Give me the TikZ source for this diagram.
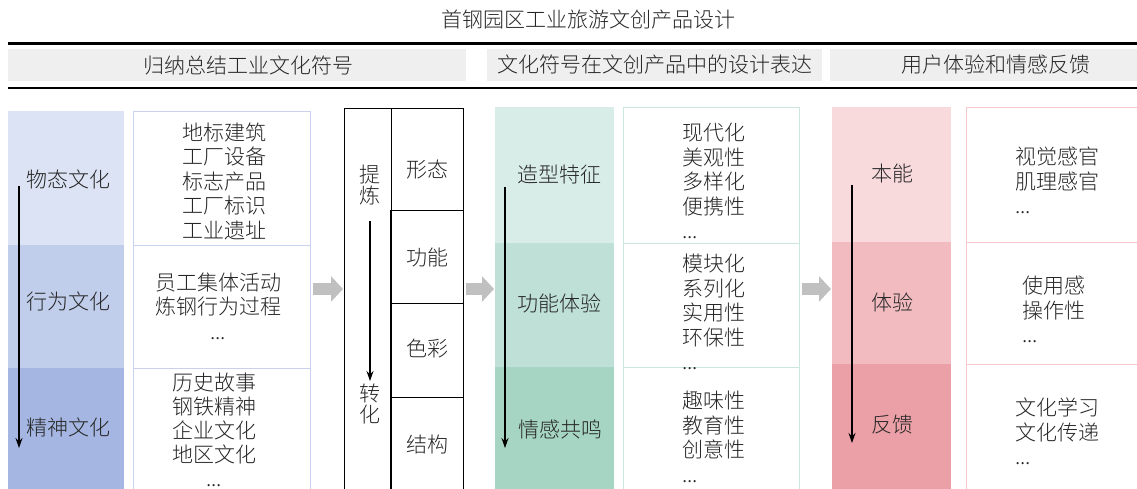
\documentclass[tikz,border=0pt]{standalone}
\usepackage{fontspec}
\setmainfont{Noto Sans CJK SC}[UprightFont={* Light}]
\usetikzlibrary{arrows.meta}
\definecolor{hdr}{HTML}{EFEFEF}
\definecolor{bA}{HTML}{DCE3F4}
\definecolor{bB}{HTML}{C0CDEB}
\definecolor{bC}{HTML}{A4B6E1}
\definecolor{bLine}{HTML}{C8D2EF}
\definecolor{gA}{HTML}{D9EDE8}
\definecolor{gB}{HTML}{BFE0D6}
\definecolor{gC}{HTML}{A6D5C3}
\definecolor{gLine}{HTML}{CBE7DE}
\definecolor{rA}{HTML}{F8DADD}
\definecolor{rB}{HTML}{F1BBC0}
\definecolor{rC}{HTML}{EAA0A6}
\definecolor{rLine}{HTML}{F5C8CC}
\definecolor{garrow}{HTML}{C0C0C0}
\tikzset{
  txt/.style={font=\fontsize{21}{24.5}\selectfont, inner sep=0pt, align=center, text=black!85},
  txtl/.style={txt, align=left},
  band/.style={draw=none, inner sep=0pt, anchor=north west},
  boxb/.style={draw=#1, line width=0.8pt, fill=white, inner sep=0pt, anchor=north west},
  thick rule/.style={line width=2.6pt, black},
  flow/.style={line width=1.1pt, black, -{Stealth[length=10pt,width=7pt]}},
  bigarrow/.style={line width=12pt, garrow, -{Triangle[length=12pt,width=25pt]}, shorten >=1pt, shorten <=2pt},
  cell/.style={draw=black, line width=0.9pt, inner sep=0pt, anchor=north west},
}
\begin{document}
\begin{tikzpicture}[x=1pt,y=-1pt]
\useasboundingbox (0,0) rectangle (1137,489);
\clip (0,0) rectangle (1137,489);
% title
\node[txt] (title) at (588,20) {首钢园区工业旅游文创产品设计};
\coordinate (rl1) at (8,43.5);
\coordinate (rr1) at (1140,43.5);
\coordinate (rl2) at (8,88);
\coordinate (rr2) at (1140,88);
\draw[thick rule] (rl1) -- (rr1);
\draw[thick rule] (rl2) -- (rr2);
% header bars
\node[band, fill=hdr, minimum width=458pt, minimum height=32pt] (h1) at (8,49) {};
\node[band, fill=hdr, minimum width=335pt, minimum height=32pt] (h2) at (487,49) {};
\node[band, fill=hdr, minimum width=312pt, minimum height=32pt] (h3) at (830,49) {};
\node[txt] (h1t) at (248,65) {归纳总结工业文化符号};
\node[txt] (h2t) at (655,65) {文化符号在文创产品中的设计表达};
\node[txt] (h3t) at (996,65) {用户体验和情感反馈};
% blue column
\node[band, fill=bA, minimum width=116pt, minimum height=134pt] (B1) at (8,111) {};
\node[band, fill=bB, minimum width=116pt, minimum height=123pt] (B2) at (8,245) {};
\node[band, fill=bC, minimum width=116pt, minimum height=125pt] (B3) at (8,368) {};
\node[txt] (B1t) at (69,179) {物态文化};
\node[txt] (B2t) at (69,302) {行为文化};
\node[txt] (B3t) at (69,427) {精神文化};
\coordinate (ba1) at (19,186);
\coordinate (ba2) at (19,448);
\draw[flow] (ba1) -- (ba2);
% blue boxes
\node[boxb=bLine, minimum width=177pt, minimum height=134pt] (P1) at (133,111) {};
\node[boxb=bLine, minimum width=177pt, minimum height=123pt] (P2) at (133,245) {};
\node[boxb=bLine, minimum width=177pt, minimum height=130pt] (P3) at (133,368) {};
\node[txt] (P1t) at (224,181) {地标建筑\\工厂设备\\标志产品\\工厂标识\\工业遗址};
\node[txt] (P2t) at (218,306) {员工集体活动\\炼钢行为过程\\...};
\node[txt, font=\fontsize{21}{24}\selectfont] (P3t) at (214,430) {历史故事\\钢铁精神\\企业文化\\地区文化\\...};
% middle structure
\node[cell, minimum width=47pt, minimum height=390pt] (M0) at (344,108) {};
\node[cell, minimum width=72pt, minimum height=102pt] (M1) at (391,108) {};
\node[cell, minimum width=73pt, minimum height=93pt] (M2) at (390,210) {};
\node[cell, minimum width=73pt, minimum height=94pt] (M3) at (390,303) {};
\node[cell, minimum width=73pt, minimum height=100pt] (M4) at (390,397) {};
\node[txt] (M1t) at (427,170) {形态};
\node[txt] (M2t) at (427,257) {功能};
\node[txt] (M3t) at (427,349) {色彩};
\node[txt] (M4t) at (427,445) {结构};
\node[txt, font=\fontsize{21}{20.5}\selectfont] (Mtop) at (370,185) {提\\炼};
\node[txt, font=\fontsize{21}{20.5}\selectfont] (Mbot) at (370,404) {转\\化};
\draw[flow] ([yshift=-16pt]Mtop.south) -- ([yshift=3pt]Mbot.north);
% green column
\node[band, fill=gA, minimum width=119pt, minimum height=136pt] (G1) at (495,107) {};
\node[band, fill=gB, minimum width=119pt, minimum height=124pt] (G2) at (495,243) {};
\node[band, fill=gC, minimum width=119pt, minimum height=125pt] (G3) at (495,367) {};
\node[txt] (G1t) at (559,175) {造型特征};
\node[txt] (G2t) at (559,303) {功能体验};
\node[txt] (G3t) at (560,429) {情感共鸣};
\coordinate (ga1) at (505,187);
\coordinate (ga2) at (505,448);
\draw[flow] (ga1) -- (ga2);
% green boxes
\node[boxb=gLine, minimum width=176pt, minimum height=136pt] (Q1) at (623,107) {};
\node[boxb=gLine, minimum width=176pt, minimum height=124pt] (Q2) at (623,243) {};
\node[boxb=gLine, minimum width=176pt, minimum height=130pt] (Q3) at (623,367) {};
\node[txtl, anchor=north west] (Q1t) at (682,123) {现代化\\美观性\\多样化\\便携性\\...};
\node[txtl, anchor=north west] (Q2t) at (682,254) {模块化\\系列化\\实用性\\环保性\\...};
\node[txtl, anchor=north west] (Q3t) at (682,391) {趣味性\\教育性\\创意性\\...};
% red column
\node[band, fill=rA, minimum width=119pt, minimum height=135pt] (R1) at (832,107) {};
\node[band, fill=rB, minimum width=119pt, minimum height=122pt] (R2) at (832,242) {};
\node[band, fill=rC, minimum width=119pt, minimum height=130pt] (R3) at (832,364) {};
\node[txt] (R1t) at (892,173) {本能};
\node[txt] (R2t) at (892,302) {体验};
\node[txt] (R3t) at (892,425) {反馈};
\coordinate (ra1) at (852,185);
\coordinate (ra2) at (852,443);
\draw[flow] (ra1) -- (ra2);
% red boxes
\node[boxb=rLine, minimum width=180pt, minimum height=135pt] (S1) at (966,107) {};
\node[boxb=rLine, minimum width=180pt, minimum height=122pt] (S2) at (966,242) {};
\node[boxb=rLine, minimum width=180pt, minimum height=130pt] (S3) at (966,364) {};
\node[txtl, anchor=north west] (S1t) at (1015,147) {视觉感官\\肌理感官\\...};
\node[txtl, anchor=north west] (S2t) at (1022,276) {使用感\\操作性\\...};
\node[txtl, anchor=north west] (S3t) at (1015,398) {文化学习\\文化传递\\...};
% gray flow arrows
\draw[bigarrow] (P2.east |- 0,289) -- (M0.west |- 0,289);
\draw[bigarrow] (M1.east |- 0,289) -- (G2.west |- 0,289);
\draw[bigarrow] (Q2.east |- 0,289) -- (R2.west |- 0,289);
\end{tikzpicture}
\end{document}
